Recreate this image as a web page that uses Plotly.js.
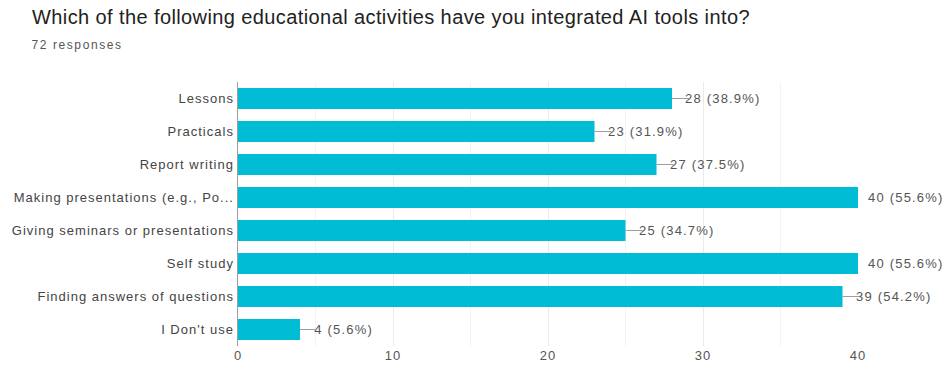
<!DOCTYPE html>
<html>
<head>
<meta charset="utf-8">
<script src="https://cdn.plot.ly/plotly-3.0.1.min.js"></script>
<style>
html,body{margin:0;padding:0;background:#fff;}
#chart{width:951px;height:371px;}
#chart .gtitle{letter-spacing:0.4px;}
#chart .ytick text{letter-spacing:1px;}
#chart .xtick text{letter-spacing:1px;}
#chart .annotation text{letter-spacing:1.2px;}
#chart .annotation[data-index="8"] text{letter-spacing:1.6px;}
</style>
</head>
<body>
<div id="chart"></div>
<script>
const titleText = "Which of the following educational activities have you integrated AI tools into?";
const subtitleText = "72 responses";
const totalResponses = 72;
const categories = [
  "Lessons",
  "Practicals",
  "Report writing",
  "Making presentations (e.g., Po...",
  "Giving seminars or presentations",
  "Self study",
  "Finding answers of questions",
  "I Don't use"
];
const counts = [28, 23, 27, 40, 25, 40, 39, 4];
const xTickVals = [0, 10, 20, 30, 40];

const W = 951, H = 371;
const M = {l: 238, r: 93, t: 82, b: 25};
const plotW = W - M.l - M.r, plotH = H - M.t - M.b;
const xMax = 40;
const FONT = "Liberation Sans, Arial, sans-serif";

const labels = counts.map(v => v + " (" + (v / totalResponses * 100).toFixed(1) + "%)");

const trace = {
  type: "bar",
  orientation: "h",
  x: counts,
  y: categories,
  marker: {color: "#00bcd4"},
  hoverinfo: "none"
};

const annotations = counts.map((v, i) => {
  const base = {
    x: v, y: categories[i], xref: "x", yref: "y",
    text: labels[i], xanchor: "left", yanchor: "middle",
    font: {family: FONT, size: 13, color: "#555"}
  };
  if (v >= xMax) {
    return Object.assign(base, {showarrow: false, xshift: 14});
  }
  return Object.assign(base, {showarrow: true, arrowhead: 0, arrowwidth: 1, arrowcolor: "#9e9e9e", ax: 17, ay: 0, standoff: 0});
});

annotations.push({
  text: subtitleText, xref: "paper", yref: "paper",
  x: (39 - M.l) / plotW, y: (H - M.b - 45) / plotH,
  xanchor: "left", yanchor: "middle", showarrow: false,
  font: {family: FONT, size: 12, color: "#555"}
});

const layout = {
  width: W, height: H,
  margin: M,
  paper_bgcolor: "#fff", plot_bgcolor: "#fff",
  title: {
    text: titleText, xref: "container", yref: "container",
    x: 32 / W, xanchor: "left", y: 1 - 17 / H, yanchor: "middle",
    font: {family: FONT, size: 20, color: "#222"}
  },
  bargap: 0.36,
  showlegend: false,
  xaxis: {
    range: [0, xMax], tickvals: xTickVals, ticktext: xTickVals.map(String),
    showgrid: true, gridcolor: "#ebebeb", gridwidth: 1,
    minor: {dtick: 5, showgrid: true, gridcolor: "#f3f3f3", gridwidth: 1},
    zeroline: false, showline: false, ticks: "",
    tickfont: {family: FONT, size: 13, color: "#555"},
    fixedrange: true
  },
  yaxis: {
    autorange: "reversed", showgrid: false, zeroline: false,
    showline: true, linecolor: "#9e9e9e", linewidth: 1.5, ticks: "", ticklen: 0,
    tickfont: {family: FONT, size: 13, color: "#444"},
    fixedrange: true
  },
  annotations: annotations
};

Plotly.newPlot("chart", [trace], layout, {displayModeBar: false, staticPlot: true});
</script>
</body>
</html>
